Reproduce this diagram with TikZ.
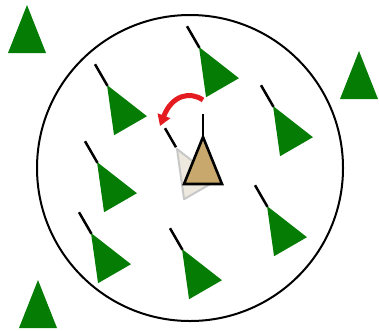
\documentclass[tikz,border=0pt]{standalone}
\usetikzlibrary{arrows.meta}
\definecolor{treegreen}{RGB}{5,125,5}
\definecolor{tanfill}{RGB}{200,168,108}
\definecolor{ghostfill}{RGB}{238,233,222}
\definecolor{ghostedge}{RGB}{200,200,200}
\definecolor{arrowred}{RGB}{228,28,34}
\begin{document}
\begin{tikzpicture}[x=1pt,y=-1pt,
  stem/.style={black,line width=2.5pt},
  tree/.pic={
    \fill[treegreen] (0,0) -- (19,47) -- (-19,47) -- cycle;
    \draw[stem] (0,1) -- (0,-24);
  },
  outtree/.pic={
    \fill[treegreen] (0,0) -- (19,48) -- (-19,48) -- cycle;
  }]
\useasboundingbox (0,0) rectangle (379,330);
% region circle
\draw[line width=2pt] (190,168) circle[radius=153];
% outside trees
\pic at (27,5) {outtree};
\pic at (359,51) {outtree};
\pic at (38,280) {outtree};
% inside trees
\pic[rotate=30] at (199,47) {tree};
\pic[rotate=30] at (107,85) {tree};
\pic[rotate=30] at (273,106) {tree};
\pic[rotate=30] at (97,162) {tree};
\pic[rotate=30] at (267,206) {tree};
\pic[rotate=30] at (91,233) {tree};
\pic[rotate=30] at (182,249) {tree};
% ghost (previous orientation)
\begin{scope}[shift={(177,149)},rotate=30]
  \draw[ghostedge,fill=ghostfill,line width=2pt,line join=round] (0,0) -- (19,47) -- (-19,47) -- cycle;
  \draw[stem] (0,-2) -- (0,-24);
\end{scope}
% current (tan) tree
\draw[stem] (203,114) -- (203,137);
\draw[black,fill=tanfill,line width=2.6pt,line join=miter] (203,137) -- (222,184) -- (184,184) -- cycle;
% rotation arrow
\draw[arrowred,line width=5pt,-{Triangle[width=13pt,length=11pt]}]
  (203,100) .. controls (190,91) and (172,95) .. (160,126);
\end{tikzpicture}
\end{document}
